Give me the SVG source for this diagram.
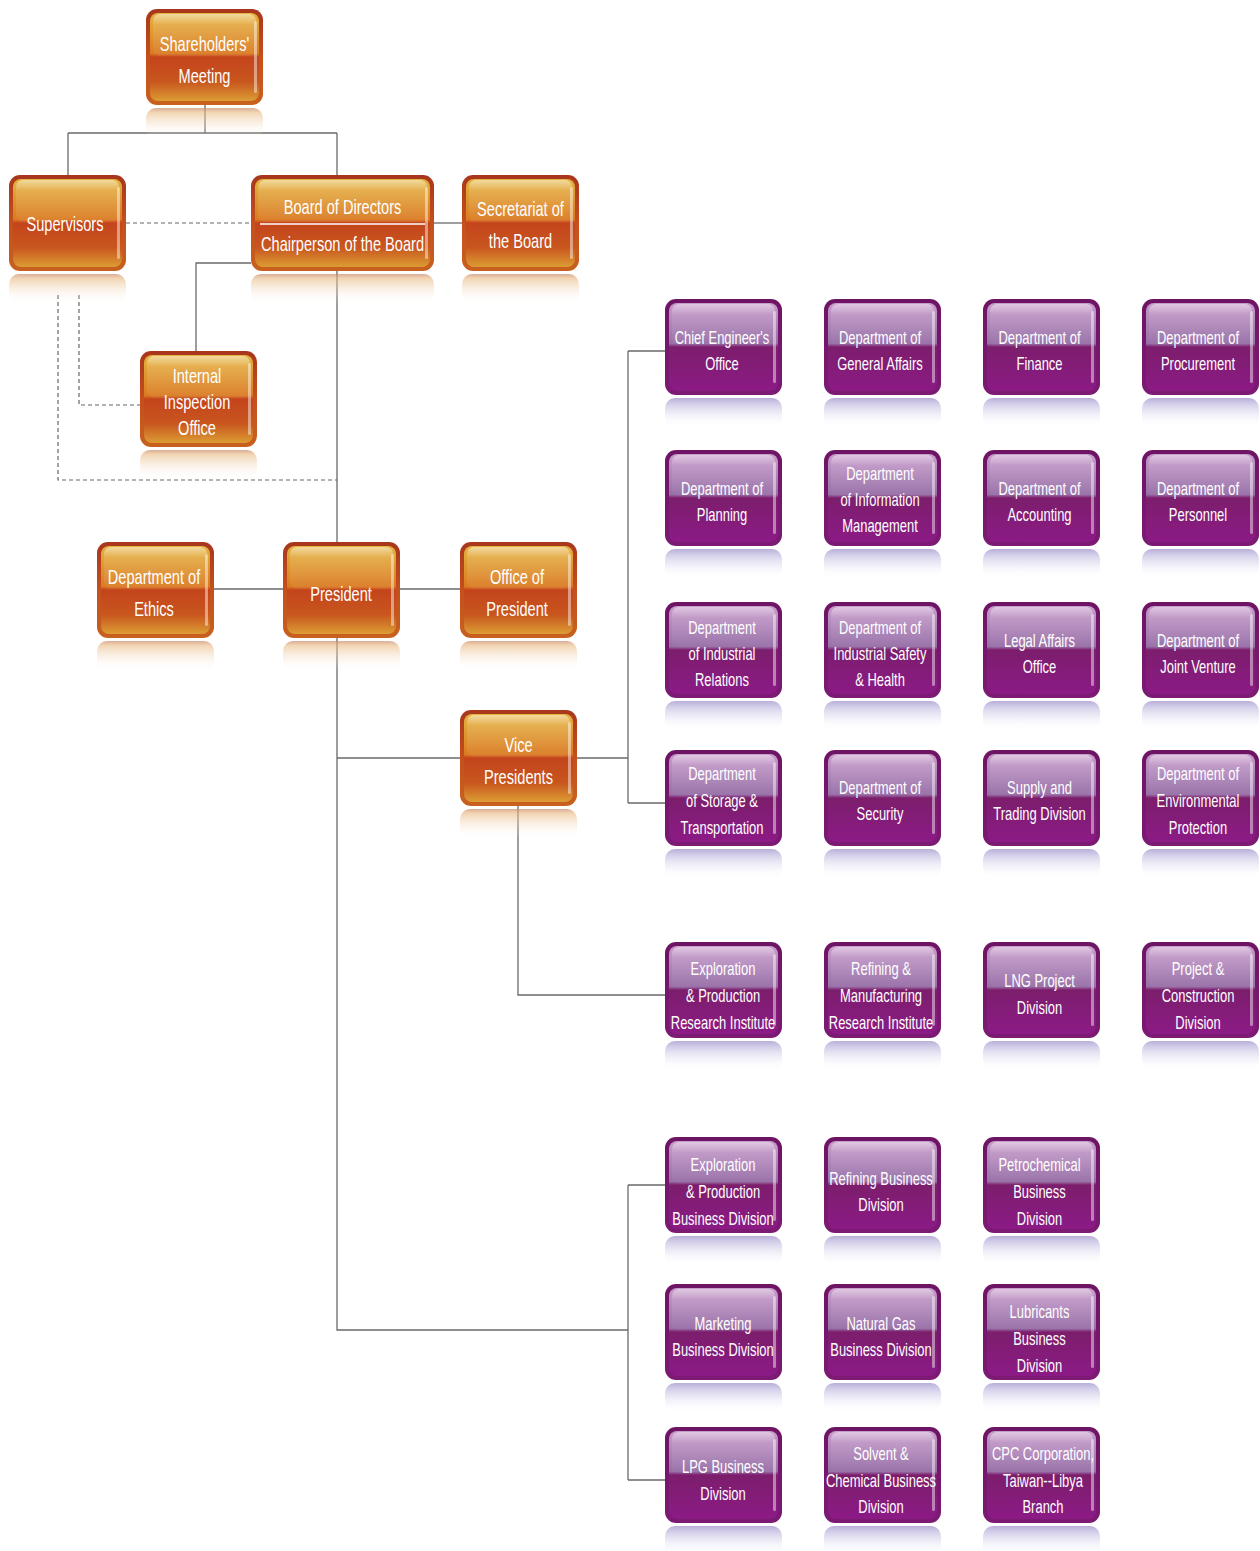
<svg xmlns="http://www.w3.org/2000/svg" xmlns:xlink="http://www.w3.org/1999/xlink" width="1260" height="1551" viewBox="0 0 1260 1551">
<style>
.ln{fill:none;stroke:#6a6a6a;stroke-width:1.3}
.ds{fill:none;stroke:#666;stroke-width:1.2;stroke-dasharray:4 3}
.t{font-family:"Liberation Sans",Arial,sans-serif;fill:#fff;text-anchor:middle}
.o{font-size:20px}
.p{font-size:18px}
</style>
<defs>
<linearGradient id="obd" x1="0" y1="0" x2="0" y2="1"><stop offset="0" stop-color="#a8361c"/><stop offset="0.5" stop-color="#c4501c"/><stop offset="1" stop-color="#c8601e"/></linearGradient>
<linearGradient id="og" x1="0" y1="0" x2="0" y2="1"><stop offset="0" stop-color="#e4b43e"/><stop offset="0.46" stop-color="#da7a22"/><stop offset="0.5" stop-color="#c4441c"/><stop offset="0.78" stop-color="#c8561e"/><stop offset="1" stop-color="#dc9c34"/></linearGradient>
<linearGradient id="ogl" x1="0" y1="0" x2="0" y2="1"><stop offset="0" stop-color="#fff" stop-opacity="0.5"/><stop offset="0.25" stop-color="#fff" stop-opacity="0.12"/><stop offset="1" stop-color="#fff" stop-opacity="0.05"/></linearGradient>
<linearGradient id="orf" x1="0" y1="0" x2="0" y2="1"><stop offset="0" stop-color="#c98a6a" stop-opacity="0.7"/><stop offset="0.15" stop-color="#e8b880" stop-opacity="0.6"/><stop offset="1" stop-color="#fff" stop-opacity="0"/></linearGradient>
<linearGradient id="pbd" x1="0" y1="0" x2="0" y2="1"><stop offset="0" stop-color="#6e1464"/><stop offset="1" stop-color="#7c1a74"/></linearGradient>
<linearGradient id="pg" x1="0" y1="0" x2="0" y2="1"><stop offset="0" stop-color="#c89ccb"/><stop offset="0.46" stop-color="#9870a8"/><stop offset="0.5" stop-color="#7c1e6c"/><stop offset="1" stop-color="#8c1a86"/></linearGradient>
<linearGradient id="pgl" x1="0" y1="0" x2="0" y2="1"><stop offset="0" stop-color="#fff" stop-opacity="0.45"/><stop offset="0.25" stop-color="#fff" stop-opacity="0.1"/><stop offset="1" stop-color="#fff" stop-opacity="0.02"/></linearGradient>
<linearGradient id="prf" x1="0" y1="0" x2="0" y2="1"><stop offset="0" stop-color="#9a8cc8" stop-opacity="0.7"/><stop offset="0.2" stop-color="#b0a6d8" stop-opacity="0.55"/><stop offset="1" stop-color="#fff" stop-opacity="0"/></linearGradient>
<g id="ob">
<rect x="0" y="99" width="117" height="30" rx="10" fill="url(#orf)"/>
<rect width="117" height="96" rx="11" fill="url(#obd)"/>
<rect x="4" y="4" width="109" height="88" rx="8" fill="url(#og)"/>
<rect x="7" y="5" width="103" height="42" rx="7" fill="url(#ogl)"/>
<rect x="108" y="12" width="3" height="72" rx="1.5" fill="#fff" opacity="0.45"/>
</g>
<g id="pb">
<rect x="0" y="99" width="117" height="30" rx="10" fill="url(#prf)"/>
<rect width="117" height="96" rx="11" fill="url(#pbd)"/>
<rect x="4" y="4" width="109" height="88" rx="8" fill="url(#pg)"/>
<rect x="7" y="5" width="103" height="42" rx="7" fill="url(#pgl)"/>
<rect x="108" y="12" width="3" height="72" rx="1.5" fill="#fff" opacity="0.45"/>
</g>
</defs>
<rect width="1260" height="1551" fill="#fff"/>
<g id="connectors">
<path class="ln" d="M205,105 V133 M68,133 H337 M68,133 V175 M337,133 V175"/>
<path class="ln" d="M434,223 H462"/>
<path class="ln" d="M251,263 H196 V351"/>
<path class="ln" d="M337,271 V1330 H628"/>
<path class="ln" d="M214,589 H283 M400,589 H460"/>
<path class="ln" d="M337,758 H460"/>
<path class="ln" d="M577,758 H628 M628,351 V803 M628,351 H665 M628,803 H665"/>
<path class="ln" d="M518,806 V995 H665"/>
<path class="ln" d="M628,1185 V1480 M628,1185 H665 M628,1480 H665"/>
<path class="ds" d="M126,223 H251"/>
<path class="ds" d="M79,295 V405 H140"/>
<path class="ds" d="M58,295 V480 H337"/>
</g>
<g id="n-shareholders" transform="translate(146,9)"><use href="#ob"/>
<text class="t o" transform="translate(58.5,42) scale(0.73,1)">Shareholders'</text>
<text class="t o" transform="translate(58.5,74) scale(0.73,1)">Meeting</text></g>
<g id="n-supervisors" transform="translate(9,175)"><use href="#ob"/>
<text class="t o" transform="translate(56,56) scale(0.73,1)">Supervisors</text></g>
<g id="n-board" transform="translate(251,175)">
<rect x="0" y="99" width="183" height="30" rx="10" fill="url(#orf)"/>
<rect width="183" height="96" rx="11" fill="url(#obd)"/>
<rect x="4" y="4" width="175" height="88" rx="8" fill="url(#og)"/>
<rect x="7" y="5" width="169" height="42" rx="7" fill="url(#ogl)"/>
<rect x="174" y="12" width="3" height="72" rx="1.5" fill="#fff" opacity="0.45"/>
<line x1="9" y1="49" x2="174" y2="49" stroke="#fff" stroke-width="1.5"/>
<text class="t o" transform="translate(91.5,39) scale(0.73,1)">Board of Directors</text>
<text class="t o" transform="translate(91.5,76) scale(0.73,1)">Chairperson of the Board</text></g>
<g id="n-secretariat" transform="translate(462,175)"><use href="#ob"/>
<text class="t o" transform="translate(58.5,41) scale(0.73,1)">Secretariat of</text>
<text class="t o" transform="translate(58.5,73) scale(0.73,1)">the Board</text></g>
<g id="n-internal" transform="translate(140,351)"><use href="#ob"/>
<text class="t o" transform="translate(57,32) scale(0.73,1)">Internal</text>
<text class="t o" transform="translate(57,58) scale(0.73,1)">Inspection</text>
<text class="t o" transform="translate(57,84) scale(0.73,1)">Office</text></g>
<g id="n-ethics" transform="translate(97,542)"><use href="#ob"/>
<text class="t o" transform="translate(57,42) scale(0.73,1)">Department of</text>
<text class="t o" transform="translate(57,74) scale(0.73,1)">Ethics</text></g>
<g id="n-president" transform="translate(283,542)"><use href="#ob"/>
<text class="t o" transform="translate(58,59) scale(0.73,1)">President</text></g>
<g id="n-officepres" transform="translate(460,542)"><use href="#ob"/>
<text class="t o" transform="translate(57,42) scale(0.73,1)">Office of</text>
<text class="t o" transform="translate(57,74) scale(0.73,1)">President</text></g>
<g id="n-vp" transform="translate(460,710)"><use href="#ob"/>
<text class="t o" transform="translate(58.5,42) scale(0.73,1)">Vice</text>
<text class="t o" transform="translate(58.5,74) scale(0.73,1)">Presidents</text></g>

<g id="n-chiefeng" transform="translate(665,299)"><use href="#pb"/>
<text class="t p" transform="translate(57,45) scale(0.72,1)">Chief Engineer's</text>
<text class="t p" transform="translate(57,71) scale(0.72,1)">Office</text></g>
<g id="n-genaffairs" transform="translate(824,299)"><use href="#pb"/>
<text class="t p" transform="translate(56,45) scale(0.72,1)">Department of</text>
<text class="t p" transform="translate(56,71) scale(0.72,1)">General Affairs</text></g>
<g id="n-finance" transform="translate(983,299)"><use href="#pb"/>
<text class="t p" transform="translate(56.5,45) scale(0.72,1)">Department of</text>
<text class="t p" transform="translate(56.5,71) scale(0.72,1)">Finance</text></g>
<g id="n-procurement" transform="translate(1142,299)"><use href="#pb"/>
<text class="t p" transform="translate(56,45) scale(0.72,1)">Department of</text>
<text class="t p" transform="translate(56,71) scale(0.72,1)">Procurement</text></g>

<g id="n-planning" transform="translate(665,450)"><use href="#pb"/>
<text class="t p" transform="translate(57,44.5) scale(0.72,1)">Department of</text>
<text class="t p" transform="translate(57,71) scale(0.72,1)">Planning</text></g>
<g id="n-infomgmt" transform="translate(824,450)"><use href="#pb"/>
<text class="t p" transform="translate(56,29.5) scale(0.72,1)">Department</text>
<text class="t p" transform="translate(56,55.5) scale(0.72,1)">of Information</text>
<text class="t p" transform="translate(56,82) scale(0.72,1)">Management</text></g>
<g id="n-accounting" transform="translate(983,450)"><use href="#pb"/>
<text class="t p" transform="translate(56.5,44.5) scale(0.72,1)">Department of</text>
<text class="t p" transform="translate(56.5,71) scale(0.72,1)">Accounting</text></g>
<g id="n-personnel" transform="translate(1142,450)"><use href="#pb"/>
<text class="t p" transform="translate(56,44.5) scale(0.72,1)">Department of</text>
<text class="t p" transform="translate(56,71) scale(0.72,1)">Personnel</text></g>

<g id="n-indrel" transform="translate(665,602)"><use href="#pb"/>
<text class="t p" transform="translate(57,31.5) scale(0.72,1)">Department</text>
<text class="t p" transform="translate(57,57.5) scale(0.72,1)">of Industrial</text>
<text class="t p" transform="translate(57,84) scale(0.72,1)">Relations</text></g>
<g id="n-safety" transform="translate(824,602)"><use href="#pb"/>
<text class="t p" transform="translate(56,31.5) scale(0.72,1)">Department of</text>
<text class="t p" transform="translate(56,57.5) scale(0.72,1)">Industrial Safety</text>
<text class="t p" transform="translate(56,84) scale(0.72,1)">&amp; Health</text></g>
<g id="n-legal" transform="translate(983,602)"><use href="#pb"/>
<text class="t p" transform="translate(56.5,44.5) scale(0.72,1)">Legal Affairs</text>
<text class="t p" transform="translate(56.5,71) scale(0.72,1)">Office</text></g>
<g id="n-jv" transform="translate(1142,602)"><use href="#pb"/>
<text class="t p" transform="translate(56,44.5) scale(0.72,1)">Department of</text>
<text class="t p" transform="translate(56,71) scale(0.72,1)">Joint Venture</text></g>

<g id="n-storage" transform="translate(665,750)"><use href="#pb"/>
<text class="t p" transform="translate(57,29.5) scale(0.72,1)">Department</text>
<text class="t p" transform="translate(57,56.5) scale(0.72,1)">of Storage &amp;</text>
<text class="t p" transform="translate(57,83.5) scale(0.72,1)">Transportation</text></g>
<g id="n-security" transform="translate(824,750)"><use href="#pb"/>
<text class="t p" transform="translate(56,43.5) scale(0.72,1)">Department of</text>
<text class="t p" transform="translate(56,69.5) scale(0.72,1)">Security</text></g>
<g id="n-supply" transform="translate(983,750)"><use href="#pb"/>
<text class="t p" transform="translate(56.5,43.5) scale(0.72,1)">Supply and</text>
<text class="t p" transform="translate(56.5,69.5) scale(0.72,1)">Trading Division</text></g>
<g id="n-env" transform="translate(1142,750)"><use href="#pb"/>
<text class="t p" transform="translate(56,29.5) scale(0.72,1)">Department of</text>
<text class="t p" transform="translate(56,56.5) scale(0.72,1)">Environmental</text>
<text class="t p" transform="translate(56,83.5) scale(0.72,1)">Protection</text></g>

<g id="n-epri" transform="translate(665,942)"><use href="#pb"/>
<text class="t p" transform="translate(58,32.5) scale(0.72,1)">Exploration</text>
<text class="t p" transform="translate(58,59.5) scale(0.72,1)">&amp; Production</text>
<text class="t p" transform="translate(58,86.5) scale(0.72,1)">Research Institute</text></g>
<g id="n-rmri" transform="translate(824,942)"><use href="#pb"/>
<text class="t p" transform="translate(57,32.5) scale(0.72,1)">Refining &amp;</text>
<text class="t p" transform="translate(57,59.5) scale(0.72,1)">Manufacturing</text>
<text class="t p" transform="translate(57,86.5) scale(0.72,1)">Research Institute</text></g>
<g id="n-lng" transform="translate(983,942)"><use href="#pb"/>
<text class="t p" transform="translate(56.5,44.5) scale(0.72,1)">LNG Project</text>
<text class="t p" transform="translate(56.5,71.5) scale(0.72,1)">Division</text></g>
<g id="n-pcd" transform="translate(1142,942)"><use href="#pb"/>
<text class="t p" transform="translate(56,32.5) scale(0.72,1)">Project &amp;</text>
<text class="t p" transform="translate(56,59.5) scale(0.72,1)">Construction</text>
<text class="t p" transform="translate(56,86.5) scale(0.72,1)">Division</text></g>

<g id="n-epbd" transform="translate(665,1137)"><use href="#pb"/>
<text class="t p" transform="translate(58,33.5) scale(0.72,1)">Exploration</text>
<text class="t p" transform="translate(58,60.5) scale(0.72,1)">&amp; Production</text>
<text class="t p" transform="translate(58,87.5) scale(0.72,1)">Business Division</text></g>
<g id="n-refbd" transform="translate(824,1137)"><use href="#pb"/>
<text class="t p" transform="translate(57,47.5) scale(0.72,1)">Refining Business</text>
<text class="t p" transform="translate(57,73.5) scale(0.72,1)">Division</text></g>
<g id="n-petro" transform="translate(983,1137)"><use href="#pb"/>
<text class="t p" transform="translate(56.5,33.5) scale(0.72,1)">Petrochemical</text>
<text class="t p" transform="translate(56.5,60.5) scale(0.72,1)">Business</text>
<text class="t p" transform="translate(56.5,87.5) scale(0.72,1)">Division</text></g>

<g id="n-marketing" transform="translate(665,1284)"><use href="#pb"/>
<text class="t p" transform="translate(58,45.5) scale(0.72,1)">Marketing</text>
<text class="t p" transform="translate(58,71.5) scale(0.72,1)">Business Division</text></g>
<g id="n-natgas" transform="translate(824,1284)"><use href="#pb"/>
<text class="t p" transform="translate(57,45.5) scale(0.72,1)">Natural Gas</text>
<text class="t p" transform="translate(57,71.5) scale(0.72,1)">Business Division</text></g>
<g id="n-lube" transform="translate(983,1284)"><use href="#pb"/>
<text class="t p" transform="translate(56.5,33.5) scale(0.72,1)">Lubricants</text>
<text class="t p" transform="translate(56.5,60.5) scale(0.72,1)">Business</text>
<text class="t p" transform="translate(56.5,87.5) scale(0.72,1)">Division</text></g>

<g id="n-lpg" transform="translate(665,1427)"><use href="#pb"/>
<text class="t p" transform="translate(58,45.5) scale(0.72,1)">LPG Business</text>
<text class="t p" transform="translate(58,72.5) scale(0.72,1)">Division</text></g>
<g id="n-solvent" transform="translate(824,1427)"><use href="#pb"/>
<text class="t p" transform="translate(57,32.5) scale(0.72,1)">Solvent  &amp;</text>
<text class="t p" transform="translate(57,59.5) scale(0.72,1)">Chemical Business</text>
<text class="t p" transform="translate(57,85.5) scale(0.72,1)">Division</text></g>
<g id="n-libya" transform="translate(983,1427)"><use href="#pb"/>
<text class="t p" transform="translate(60,32.5) scale(0.72,1)">CPC Corporation,</text>
<text class="t p" transform="translate(60,59.5) scale(0.72,1)">Taiwan--Libya</text>
<text class="t p" transform="translate(60,85.5) scale(0.72,1)">Branch</text></g>
</svg>
